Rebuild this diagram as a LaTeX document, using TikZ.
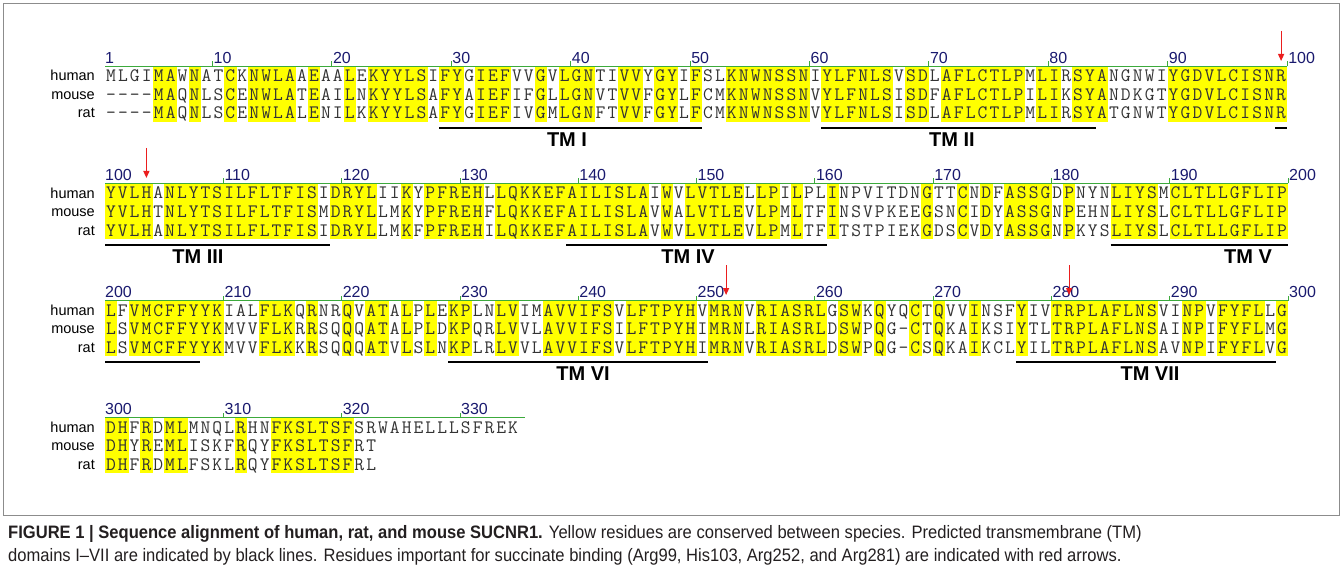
\documentclass[tikz,border=0pt]{standalone}
\usepackage{fontspec}
\usepackage{xstring}
\setsansfont{Liberation Sans}
\newfontfamily\capfont[FakeStretch=0.92]{Liberation Sans}
\usetikzlibrary{arrows.meta}

\definecolor{consyellow}{RGB}{255,255,0}
\definecolor{rulergreen}{RGB}{60,170,60}
\definecolor{numblue}{RGB}{25,25,110}
\definecolor{sitered}{RGB}{235,30,30}
\definecolor{captext}{RGB}{35,31,32}

\def\pitchA{11.94} % block A holds 99 residues
\def\pitchB{11.83} % blocks B-D

% aligned sequences, one macro per block and species
\def\humanA{MLGIMAWNATCKNWLAAEAALEKYYLSIFYGIEFVVGVLGNTIVVYGYIFSLKNWNSSNIYLFNLSVSDLAFLCTLPMLIRSYANGNWIYGDVLCISNR}
\def\mouseA{----MAQNLSCENWLATEAILNKYYLSAFYAIEFIFGLLGNVTVVFGYLFCMKNWNSSNVYLFNLSISDFAFLCTLPILIKSYANDKGTYGDVLCISNR}
\def\ratA{----MAQNLSCENWLALENILKKYYLSAFYGIEFIVGMLGNFTVVFGYLFCMKNWNSSNVYLFNLSISDLAFLCTLPMLIRSYATGNWTYGDVLCISNR}
\def\humanB{YVLHANLYTSILFLTFISIDRYLIIKYPFREHLLQKKEFAILISLAIWVLVTLELLPILPLINPVITDNGTTCNDFASSGDPNYNLIYSMCLTLLGFLIP}
\def\mouseB{YVLHTNLYTSILFLTFISMDRYLLMKYPFREHFLQKKEFAILISLAVWALVTLEVLPMLTFINSVPKEEGSNCIDYASSGNPEHNLIYSLCLTLLGFLIP}
\def\ratB{YVLHANLYTSILFLTFISIDRYLLMKFPFREHILQKKEFAILISLAVWVLVTLEVLPMLTFITSTPIEKGDSCVDYASSGNPKYSLIYSLCLTLLGFLIP}
\def\humanC{LFVMCFFYYKIALFLKQRNRQVATALPLEKPLNLVIMAVVIFSVLFTPYHVMRNVRIASRLGSWKQYQCTQVVINSFYIVTRPLAFLNSVINPVFYFLLG}
\def\mouseC{LSVMCFFYYKMVVFLKRRSQQQATALPLDKPQRLVVLAVVIFSILFTPYHIMRNLRIASRLDSWPQG-CTQKAIKSIYTLTRPLAFLNSAINPIFYFLMG}
\def\ratC{LSVMCFFYYKMVVFLKKRSQQQATVLSLNKPLRLVVLAVVIFSVLFTPYHIMRNVRIASRLDSWPQG-CSQKAIKCLYILTRPLAFLNSAVNPIFYFLVG}
\def\humanD{DHFRDMLMNQLRHNFKSLTSFSRWAHELLLSFREK}
\def\mouseD{DHYREMLISKFRQYFKSLTSFRT}
\def\ratD{DHFRDMLFSKLRQYFKSLTSFRL}

% #1 block, #2 y of the human line, #3 pitch, #4 human, #5 mouse, #6 rat
\newcommand{\seqblock}[6]{%
  \StrLen{#4}[\blocklen]%
  \foreach \i in {1,...,\blocklen}{%
    \StrChar{#4}{\i}[\resH]\StrChar{#5}{\i}[\resM]\StrChar{#6}{\i}[\resR]%
    \pgfmathsetmacro{\colx}{105+(\i-1)*#3}%
    \ifx\resH\resM\ifx\resM\resR
      \fill[conserved] (\colx,#2-9.25) rectangle ++(#3+0.3,55.5);
    \fi\fi
  }%
  \foreach \sp/\seq/\name [count=\k from 0] in {h/#4/human,m/#5/mouse,r/#6/rat}{%
    \node[species] (#1\sp) at (95,{#2+5+18.5*\k}) {\name};
    \StrLen{\seq}[\seqlen]%
    \foreach \i in {1,...,\seqlen}{%
      \StrChar{\seq}{\i}[\resch]%
      \node[residue] (#1\sp\i) at ({105+(\i-0.5)*#3},{#2+6+18.5*\k}) {\resch};
    }%
  }%
}

\begin{document}
\begin{tikzpicture}[x=1pt,y=-1pt,
  residue/.style={anchor=base, inner sep=0pt, text=black!80, font=\fontsize{19}{19}\selectfont\ttfamily},
  conserved/.style={fill=consyellow},
  species/.style={anchor=base east, inner sep=0pt, font=\fontsize{14.5}{14.5}\selectfont\sffamily},
  ruler/.style={draw=rulergreen, line width=1.2pt},
  rulertick/.style={draw=rulergreen, line width=0.8pt},
  posnum/.style={anchor=base west, inner sep=0pt, text=numblue, font=\fontsize{16}{16}\selectfont\sffamily},
  tmline/.style={draw=black, line width=1.4pt},
  tmlabel/.style={inner sep=0pt, font=\fontsize{20}{20}\selectfont\sffamily\bfseries},
  bindsite/.style={draw=sitered, line width=1.2pt, -{Triangle[length=7pt,width=6pt]}},
  frame/.style={draw=black!45, line width=0.8pt},
  caption/.style={anchor=base west, inner sep=0pt, text=captext, font=\fontsize{18}{18}\selectfont\capfont}
]
\useasboundingbox (0,0) rectangle (1342,575);
\draw[frame] (3,3) rectangle (1339,515);

% residues with conserved columns
\seqblock{A}{76}{\pitchA}{\humanA}{\mouseA}{\ratA}
\seqblock{B}{193}{\pitchB}{\humanB}{\mouseB}{\ratB}
\seqblock{C}{310}{\pitchB}{\humanC}{\mouseC}{\ratC}
\seqblock{D}{427}{\pitchB}{\humanD}{\mouseD}{\ratD}

% numbering rulers
\draw[ruler] (105,66.5) -- (1287,66.5);
\node[posnum] (numA1) at (105,63.7) {1};
\foreach \n in {10,20,...,100}{
  \pgfmathsetmacro{\tx}{105+(\n-1)*\pitchA}
  \draw[rulertick] (\tx,66.5) -- ++(0,-5);
  \node[posnum] (numA\n) at (\tx+1,63.7) {\n};
}
\foreach \row/\y/\base/\last in {B/193/100/10, C/310/200/10, D/427/300/3}{
  \pgfmathsetmacro{\xend}{\last==10 ? 105+100*\pitchB : 525}
  \draw[ruler] (105,\y-9.5) -- (\xend,\y-9.5);
  \node[posnum] (num\row0) at (105,\y-12.3) {\base};
  \foreach \j in {1,...,\last}{
    \pgfmathtruncatemacro{\n}{\base+10*\j}
    \pgfmathsetmacro{\tx}{105+10*\j*\pitchB}
    \draw[rulertick] (\tx,\y-9.5) -- ++(0,-5);
    \node[posnum] (num\row\j) at (\tx+1,\y-12.3) {\n};
  }
}

% transmembrane domains
\foreach \y/\p/\a/\b in {128/\pitchA/29/50, 128/\pitchA/61/83, 128/\pitchA/99/99,
    245/\pitchB/1/19, 245/\pitchB/40/61, 245/\pitchB/86/100,
    362/\pitchB/1/8, 362/\pitchB/30/51, 362/\pitchB/78/99}
  \draw[tmline] ({105+(\a-1)*\p},\y) -- ({105+\b*\p},\y);
\node[tmlabel] (tm1) at (567,140) {TM I};
\node[tmlabel] (tm2) at (952,140) {TM II};
\node[tmlabel] (tm3) at (198,257) {TM III};
\node[tmlabel] (tm4) at (688,257) {TM IV};
\node[tmlabel] (tm5) at (1248,257) {TM V};
\node[tmlabel] (tm6) at (583,374) {TM VI};
\node[tmlabel] (tm7) at (1150,374) {TM VII};

% succinate binding residues
\coordinate (arg99top) at (1281.1,31);   \coordinate (arg99tip) at (1281.1,61);
\coordinate (his103top) at (146.4,148);  \coordinate (his103tip) at (146.4,178);
\coordinate (arg252top) at (726.1,265);  \coordinate (arg252tip) at (726.1,295);
\coordinate (arg281top) at (1069.1,265); \coordinate (arg281tip) at (1069.1,295);
\foreach \site in {arg99,his103,arg252,arg281}
  \draw[bindsite] (\site top) -- (\site tip);

% caption
\node[caption] (capline1) at (8,538) {\textbf{FIGURE 1 | Sequence alignment of human, rat, and mouse SUCNR1.} Yellow residues are conserved between species. Predicted transmembrane (TM)};
\node[caption] (capline2) at (8,561) {domains I–VII are indicated by black lines. Residues important for succinate binding (Arg99, His103, Arg252, and Arg281) are indicated with red arrows.};
\end{tikzpicture}
\end{document}
